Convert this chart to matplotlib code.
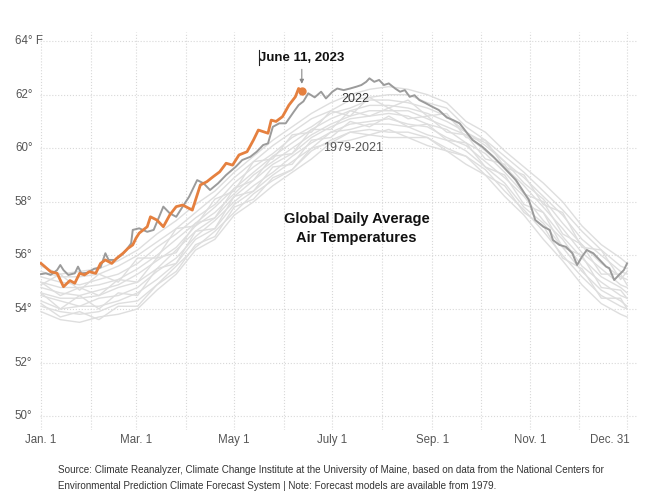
import matplotlib
matplotlib.use('Agg')
import matplotlib.pyplot as plt
from matplotlib.transforms import blended_transform_factory
from matplotlib.lines import Line2D

plt.rcParams['font.family'] = ['Liberation Sans Narrow', 'Liberation Sans', 'DejaVu Sans']

# day of year (0 = Jan. 1), temperatures in deg F
days_2023 = [0, 2, 6, 10, 14, 18, 21, 24, 27, 30, 34, 37, 40, 44, 47, 51, 54, 57, 59,
             61, 66, 68, 72, 76, 80, 84, 88, 94, 99, 103, 107, 111, 115, 119, 123,
             128, 132, 135, 138, 141, 143, 146, 150, 154, 158, 160, 162]
temp_2023 = [55.70, 55.60, 55.39, 55.33, 54.83, 55.06, 54.96, 55.33, 55.27, 55.39, 55.33,
             55.70, 55.83, 55.70, 55.89, 56.08, 56.26, 56.39, 56.64, 56.83, 57.07, 57.44,
             57.32, 57.07, 57.51, 57.82, 57.88, 57.69, 58.63, 58.75, 58.94, 59.12, 59.44,
             59.37, 59.75, 59.87, 60.31, 60.68, 60.62, 60.56, 61.05, 61.00, 61.18, 61.61,
             61.92, 62.23, 62.15]

days_2022 = [0, 3, 6, 10, 12, 14, 17, 21, 23, 25, 29, 33, 37, 40, 42, 46, 50, 53, 56,
             57, 61, 66, 70, 76, 80, 84, 88, 92, 97, 101, 105, 110, 115, 121, 125, 130,
             134, 138, 141, 144, 148, 152, 157, 160, 163, 166, 170, 174, 177, 181, 184,
             188, 192, 196, 199, 202, 204, 207, 210, 213, 216, 220, 223, 226, 229, 232,
             235, 239, 243, 247, 252, 256, 260, 268, 274, 281, 287, 291, 295, 299, 303,
             307, 312, 316, 318, 322, 326, 330, 333, 336, 339, 343, 347, 351, 353, 356,
             359, 362, 364]
temp_2022 = [55.30, 55.33, 55.27, 55.45, 55.64, 55.45, 55.27, 55.33, 55.58, 55.33, 55.35,
             55.50, 55.55, 56.08, 55.83, 55.83, 56.01, 56.20, 56.45, 56.95, 57.01, 56.88,
             56.95, 57.82, 57.57, 57.44, 57.82, 58.19, 58.81, 58.69, 58.44, 58.69, 59.00,
             59.31, 59.56, 59.68, 59.87, 60.12, 60.18, 60.80, 60.93, 60.93, 61.36, 61.61,
             61.75, 62.05, 61.90, 62.11, 61.86, 62.11, 62.23, 62.17, 62.23, 62.30, 62.36,
             62.48, 62.61, 62.48, 62.55, 62.36, 62.42, 62.23, 62.11, 62.17, 61.92, 61.98,
             61.80, 61.68, 61.55, 61.43, 61.15, 61.05, 60.93, 60.31, 60.06, 59.68, 59.31,
             59.06, 58.81, 58.44, 58.07, 57.32, 57.07, 56.95, 56.57, 56.39, 56.32, 56.08,
             55.64, 55.95, 56.20, 56.08, 55.83, 55.58, 55.52, 55.08, 55.27, 55.45, 55.70]

# 1979-2021 band, a sample of the light lines
bg_days = [0, 12, 24, 36, 48, 60, 72, 84, 96, 108, 120, 132, 144, 156, 168, 180,
           192, 204, 216, 228, 240, 252, 264, 276, 288, 300, 312, 324, 336, 348, 360, 364]
bg_1 = [53.9, 53.6, 53.5, 53.7, 53.8, 54.0, 54.7, 55.3, 56.2, 56.6, 57.5, 58.0, 58.6, 59.1,
        59.6, 60.2, 60.3, 60.5, 60.4, 60.4, 60.1, 59.9, 59.4, 59.0, 58.2, 57.5, 56.6, 55.8,
        54.9, 54.2, 53.8, 53.7]
bg_2 = [54.1, 53.9, 53.8, 53.9, 54.2, 54.3, 54.9, 55.6, 56.3, 56.9, 57.6, 58.3, 58.8, 59.2,
        59.9, 60.3, 60.6, 60.7, 60.6, 60.6, 60.4, 60.0, 59.7, 59.2, 58.4, 57.7, 56.9, 56.0,
        55.2, 54.5, 54.1, 54.0]
bg_3 = [54.3, 54.0, 54.1, 54.1, 54.3, 54.6, 55.1, 55.7, 56.6, 57.0, 57.9, 58.4, 59.0, 59.5,
        60.0, 60.6, 60.7, 60.9, 60.9, 60.8, 60.5, 60.3, 59.9, 59.3, 58.7, 57.8, 57.2, 56.3,
        55.4, 54.7, 54.3, 54.1]
bg_4 = [54.5, 54.3, 54.1, 54.4, 54.5, 54.8, 55.4, 55.9, 56.7, 57.3, 58.0, 58.6, 59.1, 59.7,
        60.2, 60.6, 60.9, 61.0, 61.1, 60.9, 60.8, 60.4, 60.1, 59.5, 58.9, 58.2, 57.3, 56.6,
        55.6, 55.0, 54.5, 54.4]
bg_5 = [54.6, 54.4, 54.4, 54.5, 54.8, 55.0, 55.5, 56.2, 56.9, 57.4, 58.2, 58.8, 59.4, 59.8,
        60.4, 60.8, 61.1, 61.2, 61.3, 61.2, 60.9, 60.7, 60.2, 59.8, 59.1, 58.3, 57.6, 56.7,
        55.9, 55.2, 54.8, 54.6]
bg_6 = [54.8, 54.6, 54.5, 54.7, 54.9, 55.3, 55.8, 56.3, 57.1, 57.6, 58.3, 59.0, 59.5, 60.0,
        60.5, 60.9, 61.2, 61.4, 61.4, 61.4, 61.1, 60.8, 60.5, 59.9, 59.3, 58.6, 57.8, 57.0,
        56.1, 55.5, 54.9, 54.8]
bg_7 = [55.0, 54.8, 54.8, 54.9, 55.1, 55.5, 56.0, 56.6, 57.2, 57.8, 58.5, 59.1, 59.7, 60.2,
        60.7, 61.1, 61.4, 61.6, 61.6, 61.5, 61.3, 61.0, 60.6, 60.2, 59.5, 58.7, 58.1, 57.2,
        56.4, 55.7, 55.2, 55.1]
bg_8 = [55.2, 55.0, 54.9, 55.1, 55.3, 55.7, 56.3, 56.8, 57.4, 57.9, 58.7, 59.3, 59.8, 60.4,
        60.8, 61.3, 61.5, 61.8, 61.8, 61.7, 61.5, 61.2, 60.6, 60.1, 59.5, 58.9, 58.2, 57.5,
        56.6, 56.0, 55.4, 55.3]
bg_9 = [55.4, 55.2, 55.2, 55.3, 55.6, 56.0, 56.5, 57.0, 57.6, 58.2, 58.9, 59.5, 60.1, 60.6,
        61.1, 61.4, 61.8, 61.9, 62.0, 62.0, 61.7, 61.5, 60.8, 60.3, 59.7, 59.1, 58.4, 57.7,
        56.9, 56.2, 55.6, 55.5]
bg_10 = [55.6, 55.3, 55.4, 55.5, 55.8, 56.2, 56.8, 57.3, 57.9, 58.4, 59.1, 59.7, 60.3, 60.8,
         61.3, 61.7, 62.0, 62.2, 62.3, 62.2, 62.0, 61.7, 61.0, 60.6, 59.9, 59.3, 58.7, 58.0,
         57.1, 56.4, 55.9, 55.7]
bg_11 = [54.6, 54.0, 54.5, 54.0, 54.6, 54.5, 55.5, 55.7, 56.9, 57.0, 58.2, 58.4, 59.3, 59.4,
         60.3, 60.4, 61.0, 60.8, 61.2, 60.8, 60.9, 60.3, 60.2, 59.3, 59.0, 57.9, 57.6, 56.3,
         56.0, 54.8, 54.7, 54.4]
bg_12 = [54.9, 55.3, 54.7, 55.3, 55.0, 55.9, 55.9, 57.0, 57.1, 58.1, 58.4, 59.5, 59.6, 60.5,
         60.6, 61.4, 61.2, 61.9, 61.5, 61.8, 61.2, 61.3, 60.4, 60.3, 59.3, 59.0, 57.9, 57.6,
         56.3, 56.2, 55.1, 55.4]
bg_13 = [54.2, 53.7, 53.9, 53.6, 54.1, 54.1, 54.9, 55.4, 56.4, 56.7, 57.8, 58.1, 58.9, 59.2,
         60.0, 60.2, 60.6, 60.5, 60.7, 60.4, 60.4, 59.9, 59.7, 59.0, 58.6, 57.6, 57.1, 55.9,
         55.5, 54.4, 54.4, 54.0]
bg_14 = [55.0, 54.5, 54.8, 54.5, 55.1, 55.0, 55.9, 56.1, 57.2, 57.4, 58.5, 58.8, 59.7, 59.8,
         60.7, 60.7, 61.4, 61.2, 61.5, 61.1, 61.2, 60.6, 60.5, 59.6, 59.4, 58.3, 58.0, 56.8,
         56.4, 55.3, 55.3, 54.9]
background = [bg_1, bg_2, bg_3, bg_4, bg_5, bg_6, bg_7, bg_8, bg_9, bg_10,
              bg_11, bg_12, bg_13, bg_14]

month_starts = [0, 31, 59, 90, 120, 151, 181, 212, 243, 273, 304, 334, 364]
tick_days = [0, 59, 120, 181, 243, 304]
tick_labels = ['Jan. 1', 'Mar. 1', 'May 1', 'July 1', 'Sep. 1', 'Nov. 1']
y_ticks = [50, 52, 54, 56, 58, 60, 62, 64]
y_labels = ['50°', '52°', '54°', '56°', '58°', '60°', '62°', '64° F']

fig = plt.figure(figsize=(6.47, 5.0), dpi=100)
ax = fig.add_axes([40 / 647, 70 / 500, 598 / 647, 398 / 500])
ax.set_xlim(-0.6, 370.8)
ax.set_ylim(49.48, 64.34)

for d in month_starts:
    ax.axvline(d, color='#d8d8d8', lw=0.8, ls=':', zorder=0)
for t in y_ticks:
    ax.axhline(t, color='#d8d8d8', lw=0.8, ls=':', zorder=0)

for line in background:
    ax.plot(bg_days, line, color='#dedede', lw=1.0, zorder=1)
ax.plot(days_2022, temp_2022, color='#9b9b9b', lw=1.4, zorder=2)
ax.plot(days_2023, temp_2023, color='#e5803f', lw=2.0, zorder=3)
ax.plot(days_2023[-1], temp_2023[-1], 'o', color='#e5803f', ms=5, zorder=4)

ax.set_xticks([])
ax.set_yticks([])
for s in ax.spines.values():
    s.set_visible(False)

ylab = blended_transform_factory(ax.transAxes, ax.transData)
for t, lab in zip(y_ticks, y_labels):
    ax.text(-0.042, t, lab, transform=ylab, ha='left', va='center', fontsize=8.3,
            color='#555555')
xlab = blended_transform_factory(ax.transData, ax.transAxes)
for d, lab in zip(tick_days, tick_labels):
    ax.text(d, -0.009, lab, transform=xlab, ha='center', va='top', fontsize=8.3,
            color='#555555')
ax.text(365.5, -0.009, 'Dec. 31', transform=xlab, ha='right', va='top', fontsize=8.3,
        color='#555555')

ax.annotate('', xy=(days_2023[-1], temp_2023[-1] + 0.15), xytext=(days_2023[-1], 63.05),
            arrowprops=dict(arrowstyle='-|>', color='#888888', lw=0.8, mutation_scale=6))
ax.text(days_2023[-1], 63.15, 'June 11, 2023', ha='center', va='bottom', fontsize=9.5,
        fontweight='bold', color='#111111')
fig.add_artist(Line2D([259 / 647, 259 / 647], [1 - 50 / 500, 1 - 65 / 500],
                      color='#222222', lw=0.8))
ax.text(195, 61.82, '2022', ha='center', va='center', fontsize=9, color='#333333')
ax.text(194, 60.0, '1979-2021', ha='center', va='center', fontsize=9, color='#555555')
ax.text(196, 57.0, 'Global Daily Average\nAir Temperatures', ha='center', va='center',
        fontsize=10.5, fontweight='bold', color='#111111', linespacing=1.4)

fig.text(58 / 647, 1 - 470 / 500,
         'Source: Climate Reanalyzer, Climate Change Institute at the University of Maine, '
         'based on data from the National Centers for', fontsize=7.1, color='#333333',
         va='center')
fig.text(58 / 647, 1 - 486 / 500,
         'Environmental Prediction Climate Forecast System | Note: Forecast models are '
         'available from 1979.', fontsize=7.1, color='#333333', va='center')

fig.savefig('out.png', dpi=100)
